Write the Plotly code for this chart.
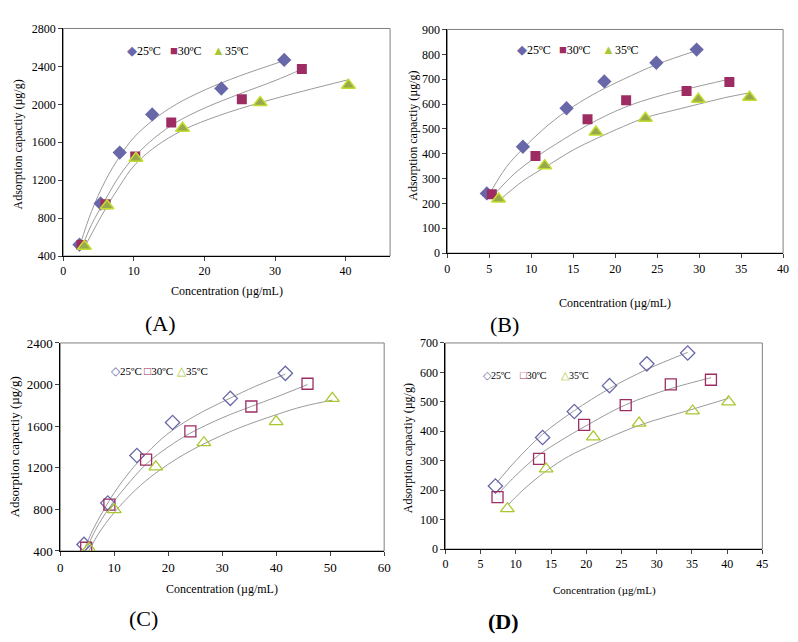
import plotly.graph_objects as go
from plotly.subplots import make_subplots

temps = ["25ºC", "30ºC", "35ºC"]

# (A) measured points
a_x25 = [2.3, 5.3, 8.0, 12.6, 22.4, 31.3]
a_y25 = [520, 954, 1491, 1894, 2167, 2468]
a_x30 = [2.6, 6.0, 10.2, 15.3, 25.3, 33.8]
a_y30 = [516, 947, 1450, 1808, 2055, 2373]
a_x35 = [3.0, 6.2, 10.3, 16.9, 27.9, 40.4]
a_y35 = [503, 930, 1432, 1747, 2020, 2202]
# (A) fitted curves
a_cx25 = [2.4, 4, 6, 8, 10, 13, 16, 20, 25, 31.3]
a_cy25 = [520, 870, 1200, 1450, 1650, 1850, 2000, 2150, 2300, 2460]
a_cx30 = [2.7, 4, 6, 8, 10, 13, 16, 20, 25, 30, 33.8]
a_cy30 = [500, 730, 1000, 1250, 1440, 1650, 1810, 1960, 2110, 2250, 2370]
a_cx35 = [3.0, 4.5, 6, 8, 10, 13, 17, 22, 28, 34, 40.4]
a_cy35 = [490, 700, 900, 1140, 1350, 1550, 1730, 1880, 2020, 2140, 2260]

# (B)
b_x25 = [4.7, 9.0, 14.2, 18.7, 24.9, 29.7]
b_y25 = [240, 428, 583, 691, 766, 819]
b_x30 = [5.3, 10.5, 16.7, 21.3, 28.5, 33.6]
b_y30 = [237, 391, 539, 615, 652, 689]
b_x35 = [6.1, 11.6, 17.7, 23.6, 29.9, 36.0]
b_y35 = [218, 352, 487, 543, 619, 627]
b_cx25 = [4.8, 7, 9, 12, 15, 18, 21, 25, 29.7]
b_cy25 = [225, 345, 420, 515, 590, 650, 700, 760, 815]
b_cx30 = [5.3, 8, 10.5, 13, 16.7, 21, 25, 28.5, 33.6]
b_cy30 = [225, 320, 385, 440, 515, 585, 630, 660, 700]
b_cx35 = [6.1, 9, 11.6, 15, 17.7, 21, 23.6, 27, 30, 33, 36]
b_cy35 = [210, 290, 345, 415, 460, 510, 545, 575, 600, 625, 645]

# (C)
c_x25 = [4.4, 8.8, 14.2, 20.8, 31.5, 41.7]
c_y25 = [463, 861, 1318, 1635, 1867, 2108]
c_x30 = [4.8, 9.1, 15.9, 24.1, 35.4, 45.8]
c_y30 = [431, 845, 1278, 1550, 1789, 2008]
c_x35 = [5.3, 10.0, 17.7, 26.6, 40.0, 50.4]
c_y35 = [425, 798, 1209, 1441, 1644, 1867]
c_cx25 = [4.5, 6, 8, 10, 13, 16, 20, 25, 31.5, 36, 41.7]
c_cy25 = [420, 600, 790, 960, 1170, 1340, 1530, 1700, 1870, 1980, 2100]
c_cx30 = [4.8, 6.5, 9, 12, 16, 20, 24, 30, 35.4, 40, 45.8]
c_cy30 = [410, 600, 810, 1010, 1240, 1400, 1530, 1680, 1790, 1880, 2000]
c_cx35 = [5.3, 7, 10, 14, 17.7, 22, 26.6, 33, 40, 45, 50.4]
c_cy35 = [400, 560, 770, 990, 1150, 1300, 1430, 1580, 1710, 1790, 1850]

# (D)
d_x25 = [7.1, 13.8, 18.3, 23.3, 28.6, 34.4]
d_y25 = [214, 379, 467, 555, 629, 666]
d_x30 = [7.4, 13.3, 19.7, 25.6, 32.0, 37.7]
d_y30 = [176, 306, 422, 489, 559, 575]
d_x35 = [8.8, 14.3, 21.0, 27.5, 35.1, 40.2]
d_y35 = [137, 272, 381, 428, 469, 500]
d_cx25 = [7.3, 10, 13.8, 18.3, 23.3, 28.6, 34.4]
d_cy25 = [225, 300, 390, 470, 545, 610, 668]
d_cx30 = [7.6, 10, 13.3, 16.5, 19.7, 25.6, 32, 37.7]
d_cy30 = [190, 250, 320, 370, 415, 490, 545, 582]
d_cx35 = [8.9, 11, 14.3, 17.5, 21, 27.5, 35.1, 40.2]
d_cy35 = [150, 200, 265, 315, 355, 420, 475, 512]

blue = "#6868a8"
red = "#9c2c62"
green = "#a8c832"
serif = "Liberation Serif, Times New Roman, serif"
W, H = 798, 642

fig = make_subplots(rows=2, cols=2)

panels = [
    (1, 1, [(a_x25, a_y25, a_cx25, a_cy25), (a_x30, a_y30, a_cx30, a_cy30), (a_x35, a_y35, a_cx35, a_cy35)], False),
    (1, 2, [(b_x25, b_y25, b_cx25, b_cy25), (b_x30, b_y30, b_cx30, b_cy30), (b_x35, b_y35, b_cx35, b_cy35)], False),
    (2, 1, [(c_x25, c_y25, c_cx25, c_cy25), (c_x30, c_y30, c_cx30, c_cy30), (c_x35, c_y35, c_cx35, c_cy35)], True),
    (2, 2, [(d_x25, d_y25, d_cx25, d_cy25), (d_x30, d_y30, d_cx30, d_cy30), (d_x35, d_y35, d_cx35, d_cy35)], True),
]

for row, col, series, hollow in panels:
    # fitted lines first
    for (x, y, cx, cy) in series:
        fig.add_trace(go.Scatter(x=cx, y=cy, mode="lines", line=dict(color="#9a9a9a", width=1, shape="spline"),
                                 showlegend=False, hoverinfo="skip"), row=row, col=col)
    if hollow:
        styles = [dict(symbol="diamond-open", size=11, color=blue, line=dict(width=1.3)),
                  dict(symbol="square-open", size=11, color=red, line=dict(width=1.3)),
                  dict(symbol="triangle-up-open", size=12, color=green, line=dict(width=1.3))]
    else:
        styles = [dict(symbol="diamond", size=11, color=blue),
                  dict(symbol="square", size=10, color=red),
                  dict(symbol="triangle-up", size=12, color="#98a84c", line=dict(color="#c4dc30", width=1.5))]
    for (x, y, cx, cy), st, name in zip(series, styles, temps):
        fig.add_trace(go.Scatter(x=x, y=y, mode="markers", marker=st, name=name, showlegend=False),
                      row=row, col=col)

doms = {
    "xaxis": [61 / W, 392 / W], "yaxis": [1 - 255 / H, 1 - 22 / H],
    "xaxis2": [450 / W, 790 / W], "yaxis2": [1 - 252 / H, 1 - 23 / H],
    "xaxis3": [58 / W, 386 / W], "yaxis3": [1 - 557 / H, 1 - 344 / H],
    "xaxis4": [448 / W, 769 / W], "yaxis4": [1 - 555 / H, 1 - 344 / H],
}
xr = {"xaxis": ([0, 46.3], [0, 10, 20, 30, 40]), "xaxis2": ([0, 40], list(range(0, 41, 5))),
      "xaxis3": ([0, 60], list(range(0, 61, 10))), "xaxis4": ([0, 45], list(range(0, 46, 5)))}
yr = {"yaxis": ([400, 2800], list(range(400, 2801, 400))), "yaxis2": ([0, 900], list(range(0, 901, 100))),
      "yaxis3": ([400, 2400], list(range(400, 2401, 400))), "yaxis4": ([0, 700], list(range(0, 701, 100)))}
tfs = {"": 12, "2": 12, "3": 13, "4": 12}

for s in ["", "2", "3", "4"]:
    rng, tv = xr["xaxis" + s]
    fig.layout["xaxis" + s].update(domain=doms["xaxis" + s], range=rng, tickvals=tv, showgrid=False,
                                   zeroline=False, showline=True, linecolor="black", linewidth=1,
                                   ticks="outside", ticklen=4,
                                   tickfont=dict(family=serif, size=tfs[s], color="black"))
    rng, tv = yr["yaxis" + s]
    fig.layout["yaxis" + s].update(domain=doms["yaxis" + s], range=rng, tickvals=tv, showgrid=False,
                                   zeroline=False, showline=True, linecolor="black", linewidth=1,
                                   ticks="outside", ticklen=4,
                                   tickfont=dict(family=serif, size=tfs[s], color="black"))

# plot frames
for xa, ya in [("x", "y"), ("x2", "y2"), ("x3", "y3"), ("x4", "y4")]:
    fig.add_shape(type="rect", xref=xa + " domain", yref=ya + " domain", x0=0, x1=1, y0=0, y1=1,
                  line=dict(color="#808080", width=1), layer="below")

# axis titles (x, y centres in pixels)
xtitles = [(227, 291, 12), (620, 303, 12), (222, 596, 12), (609, 597, 11)]
ytitles = [(15, 141, 12), (415, 132, 12), (12, 450, 13), (411, 452, 12)]
for tx, ty, fs in xtitles:
    fig.add_annotation(x=tx / W, y=1 - ty / H, xref="paper", yref="paper", showarrow=False,
                       xanchor="center", yanchor="middle",
                       text="Concentration (µg/mL)", font=dict(family=serif, size=fs, color="black"))
for tx, ty, fs in ytitles:
    fig.add_annotation(x=tx / W, y=1 - ty / H, xref="paper", yref="paper", showarrow=False, textangle=-90,
                       xanchor="center", yanchor="middle",
                       text="Adsorption capactiy (µg/g)", font=dict(family=serif, size=fs, color="black"))

# legend keys: symbol centre x for each temperature, y, font size
legends = [
    ([129, 172, 215], 45, ["◆", "■", "▲"], 12),
    ([523, 566, 610], 44, ["◆", "■", "▲"], 12),
    ([112, 146, 179], 373, ["◇", "□", "△"], 11),
    ([489, 527, 568], 377, ["◇", "□", "△"], 10),
]
for xs, ly, syms, fs in legends:
    for sx, s, t, c in zip(xs, syms, temps, [blue, red, green]):
        txt = f"<span style='color:{c};font-size:{fs + 1}px'>{s}</span>{t}"
        fig.add_annotation(x=(sx - 5) / W, y=1 - ly / H, xref="paper", yref="paper", xanchor="left",
                           yanchor="middle", text=txt, showarrow=False,
                           font=dict(family=serif, size=fs, color="black"))

for lab, lx, ly, bold in [("(A)", 159, 324, False), ("(B)", 508, 325, False),
                          ("(C)", 142, 626, False), ("(D)", 507, 629, True)]:
    fig.add_annotation(x=lx / W, y=1 - ly / H, xref="paper", yref="paper", showarrow=False,
                       xanchor="center", yanchor="middle",
                       text=f"<b>{lab}</b>" if bold else lab, font=dict(family=serif, size=22, color="black"))

fig.update_layout(width=W, height=H, margin=dict(l=0, r=0, t=0, b=0),
                  paper_bgcolor="white", plot_bgcolor="white", showlegend=False)

fig.write_html("out.html", config={"displayModeBar": False},
               post_script="document.body.style.margin='0';")
